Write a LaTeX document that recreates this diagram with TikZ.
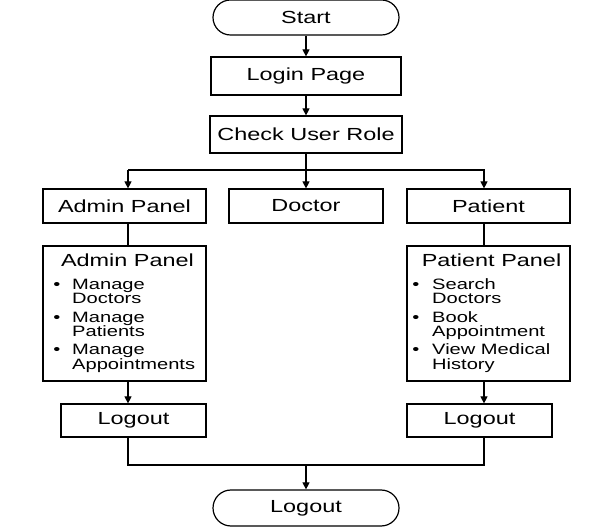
\documentclass[tikz,border=0pt]{standalone}
\usepackage{fontspec}
\setmainfont[FakeStretch=1.34]{Liberation Sans}
\usetikzlibrary{arrows.meta}
\newcommand\headfont{\fontsize{17.5}{19}\selectfont}
\newcommand\itemfont{\fontsize{15}{13}\selectfont}
\begin{document}
\begin{tikzpicture}[x=1pt,y=1pt,
  box/.style={draw, line width=1.2pt, inner sep=0pt, font=\headfont},
  term/.style={box, rounded corners=17.5pt},
  arr/.style={line width=1.2pt, -{Triangle[length=7pt,width=7pt]}},
  ln/.style={line width=1.2pt},
  ttl/.style={anchor=base, inner sep=0pt, font=\headfont},
  itm/.style={anchor=base west, inner sep=0pt, font=\itemfont},
  bul/.style={anchor=base, inner sep=0pt, font=\itemfont}]
\fill[white] (0,0) rectangle (613,527);
\useasboundingbox (0,0) rectangle (613,527);

% main column
\node[term, minimum width=186pt, minimum height=35pt] (start) at (306,509.5) {Start};
\node[box, minimum width=190pt, minimum height=38pt] (login) at (306,451) {Login Page};
\node[box, minimum width=192pt, minimum height=37pt] (check) at (306,392.5) {Check User Role};

% role boxes
\node[box, minimum width=163pt, minimum height=34pt] (adminhead) at (124.5,321) {Admin Panel};
\node[box, minimum width=154pt, minimum height=34pt] (doctor) at (306,321) {Doctor};
\node[box, minimum width=163pt, minimum height=34pt] (patienthead) at (488.5,321) {Patient};

% panels
\node[box, minimum width=163pt, minimum height=135pt] (adminpanel) at (124.5,213.5) {};
\node[box, minimum width=163pt, minimum height=135pt] (patientpanel) at (488.5,213.5) {};

% logout boxes
\node[box, minimum width=145pt, minimum height=33pt] (logoutA) at (133.5,106.5) {Logout};
\node[box, minimum width=145pt, minimum height=33pt] (logoutP) at (479.5,106.5) {Logout};
\node[term, minimum width=186pt, minimum height=36pt, rounded corners=18pt] (end) at (306,19) {Logout};

% admin panel text
\node[ttl] (atitle) at (127.5,260) {Admin Panel};
\node[bul] (ab1) at (57,237.5) {•};
\node[itm] (a1a) at (72,237.5) {Manage};
\node[itm] (a1b) at (72,223.3) {Doctors};
\node[bul] (ab2) at (57,204.5) {•};
\node[itm] (a2a) at (72,204.5) {Manage};
\node[itm] (a2b) at (72,190.3) {Patients};
\node[bul] (ab3) at (57,172) {•};
\node[itm] (a3a) at (72,172) {Manage};
\node[itm] (a3b) at (72,157.8) {Appointments};

% patient panel text
\node[ttl] (ptitle) at (491.5,260) {Patient Panel};
\node[bul] (pb1) at (416,237.5) {•};
\node[itm] (p1a) at (432,237.5) {Search};
\node[itm] (p1b) at (432,223.3) {Doctors};
\node[bul] (pb2) at (416,204.5) {•};
\node[itm] (p2a) at (432,204.5) {Book};
\node[itm] (p2b) at (432,190.3) {Appointment};
\node[bul] (pb3) at (416,172) {•};
\node[itm] (p3a) at (432,172) {View Medical};
\node[itm] (p3b) at (432,157.8) {History};

% helper coordinates
\coordinate (colA) at (128,0);
\coordinate (colP) at (484,0);
\coordinate (branch) at (0,357);
\coordinate (merge) at (0,62);

% connectors
\draw[arr] (start) -- (login);
\draw[arr] (login) -- (check);
\draw[ln] (check.south) -- (check.south |- branch);
\draw[arr] (colA |- branch) -- (adminhead.north -| colA);
\draw[arr] (colA |- branch) -- (colP |- branch) -- (patienthead.north -| colP);
\draw[arr] (check.south |- branch) -- (doctor.north);
\draw[ln] (adminhead.south -| colA) -- (adminpanel.north -| colA);
\draw[ln] (patienthead.south -| colP) -- (patientpanel.north -| colP);
\draw[arr] (adminpanel.south -| colA) -- (logoutA.north -| colA);
\draw[arr] (patientpanel.south -| colP) -- (logoutP.north -| colP);
\draw[ln] (logoutA.south -| colA) -- (colA |- merge) -- (colP |- merge) -- (logoutP.south -| colP);
\draw[arr] (end.north |- merge) -- (end.north);
\end{tikzpicture}
\end{document}
